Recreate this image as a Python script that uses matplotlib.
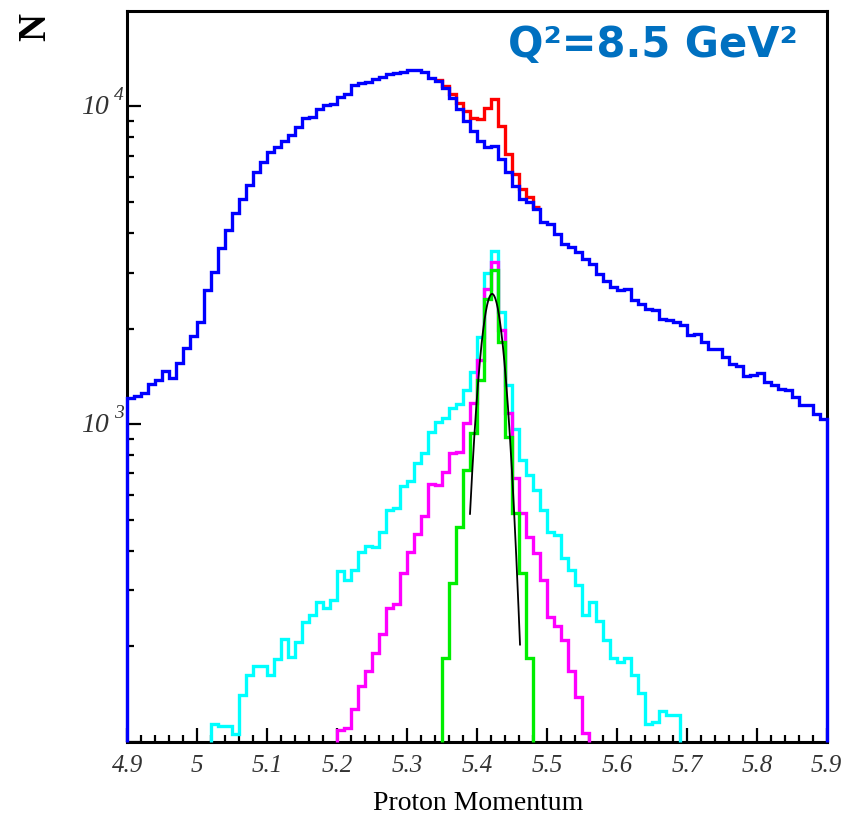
import matplotlib
matplotlib.use("Agg")
import matplotlib.pyplot as plt
import numpy as np
from matplotlib.ticker import FixedLocator, NullFormatter

# 100 bins of 0.01 between 4.9 and 5.9
x_lo, x_hi, n_bins = 4.9, 5.9, 100

# all events (blue)
blue = [1213, 1224, 1249, 1342, 1381, 1470, 1401, 1557, 1741, 1889,
        2101, 2635, 3008, 3587, 4086, 4630, 5112, 5657, 6197, 6662,
        7160, 7461, 7753, 8138, 8641, 9181, 9268, 9800, 10109, 10204,
        10734, 10969, 11657, 11827, 11939, 12227, 12378, 12649, 12741, 12861,
        12992, 12992, 12861, 12316, 12026, 11457, 10657, 9800, 9004, 8376,
        7792, 7424, 7516, 6828, 6197, 5628, 5112, 4988, 4756, 4317,
        4267, 3969, 3693, 3603, 3475, 3313, 3195, 2973, 2832, 2698,
        2635, 2667, 2451, 2393, 2308, 2292, 2147, 2121, 2095, 2046,
        1903, 1927, 1813, 1720, 1720, 1627, 1551, 1521, 1415, 1432,
        1449, 1358, 1326, 1295, 1279, 1218, 1147, 1147, 1080, 1042]

# red only differs from blue around the peak
red_first_bin = 44
red = [12087, 11598, 10921, 10279, 9680, 9221, 9115, 9913, 10535, 8685,
       7078, 6125, 5495, 5172, 4811]

cyan_first_bin = 12
cyan = [114, 112, 112, 106, 141, 163, 174, 174, 162, 182,
        211, 185, 206, 238, 251, 275, 264, 280, 344, 324,
        348, 397, 414, 410, 459, 537, 544, 639, 664, 756,
        811, 944, 1015, 1044, 1122, 1156, 1279, 1460, 1879, 2986,
        3518, 2252, 1326, 965, 771, 692, 621, 537, 459, 448,
        379, 348, 312, 251, 275, 240, 210, 184, 179, 184,
        163, 143, 114, 116, 125, 122, 122]

magenta_first_bin = 30
magenta = [109, 111, 127, 150, 167, 190, 219, 264, 272, 340,
           397, 452, 514, 648, 644, 708, 809, 818, 1005, 1162,
           1588, 2667, 3232, 1973, 1083, 675, 524, 443, 393, 324,
           248, 231, 210, 167, 139, 107]

green_first_bin = 45
green = [184, 316, 476, 717, 935, 1374, 2481, 3045, 1813, 912,
         524, 340, 184]

# gaussian fit on the green peak
fit_amp, fit_mean, fit_sigma = 2570, 5.4216, 0.0177
fit_lo, fit_hi = 5.39, 5.4615

x_ticks = [4.9, 5.0, 5.1, 5.2, 5.3, 5.4, 5.5, 5.6, 5.7, 5.8, 5.9]
x_tick_labels = ["4.9", "5", "5.1", "5.2", "5.3", "5.4", "5.5", "5.6", "5.7", "5.8", "5.9"]
y_ticks = [100, 1000, 10000]
y_label_ticks = [1000, 10000]
y_label_exps = ["3", "4"]

edges = np.linspace(x_lo, x_hi, n_bins + 1)
y_min, y_max = 100, 20000

fig = plt.figure(figsize=(8.53, 8.18), dpi=100)
ax = fig.add_axes([127.3 / 853, 76 / 818, 699.4 / 853, 731.3 / 818])
ax.set_yscale("log")
ax.set_xlim(x_lo, x_hi)
ax.set_ylim(y_min, y_max)

lw = 2.4


def draw_part(values, first, color, z):
    e = edges[first:first + len(values) + 1]
    ax.stairs(values, e, baseline=y_min, color=color, lw=lw, zorder=z, clip_on=False)


ax.stairs(red, edges[red_first_bin:red_first_bin + len(red) + 1], baseline=None,
          color="#ff0000", lw=lw, zorder=2)
ax.stairs(blue, edges, baseline=y_min, color="#0000ff", lw=lw, zorder=3, clip_on=False)
draw_part(cyan, cyan_first_bin, "#00ffff", 4)
draw_part(magenta, magenta_first_bin, "#ff00ff", 5)
draw_part(green, green_first_bin, "#00ee00", 6)

xf = np.linspace(fit_lo, fit_hi, 200)
yf = fit_amp * np.exp(-0.5 * ((xf - fit_mean) / fit_sigma) ** 2)
ax.plot(xf, yf, color="black", lw=1.3, zorder=7)

for s in ax.spines.values():
    s.set_linewidth(2.2)
    s.set_zorder(2.5)

ax.xaxis.set_major_locator(FixedLocator(x_ticks))
ax.xaxis.set_minor_locator(FixedLocator(np.arange(4.92, 5.9, 0.02)))
ax.set_xticklabels(x_tick_labels)
ax.yaxis.set_major_locator(FixedLocator(y_ticks))
ax.yaxis.set_minor_locator(FixedLocator([k * 100 for k in range(2, 10)] + [k * 1000 for k in range(2, 10)]))
ax.yaxis.set_minor_formatter(NullFormatter())
ax.set_yticklabels([""] * len(y_ticks))

ax.tick_params(which="major", direction="in", length=10, width=1.6, top=False, right=False)
ax.tick_params(which="minor", direction="in", length=5, width=1.6, top=False, right=False)
ax.tick_params(axis="x", which="major", pad=9)
for lab in ax.get_xticklabels():
    lab.set_fontfamily("Liberation Serif")
    lab.set_fontstyle("italic")
    lab.set_fontsize(18)
    lab.set_color("#333333")

# ROOT style 10^n labels: italic "10" with raised exponent
for yv, ex in zip(y_label_ticks, y_label_exps):
    ax.annotate("10", xy=(0, yv), xycoords=("axes fraction", "data"), xytext=(-23, -1),
                textcoords="offset points", ha="center", va="center", fontsize=20,
                fontfamily="Liberation Serif", fontstyle="italic", color="#333333")
    ax.annotate(ex, xy=(0, yv), xycoords=("axes fraction", "data"), xytext=(-6, 8),
                textcoords="offset points", ha="center", va="center", fontsize=14,
                fontfamily="Liberation Serif", fontstyle="italic", color="#333333")

fig.text(478 / 853, 1 - 804 / 818, "Proton Momentum", fontfamily="Liberation Serif",
         fontsize=20, ha="center", va="center")
fig.text(36 / 853, 1 - 27 / 818, "N", fontfamily="Liberation Serif", fontsize=28,
         fontweight="bold", rotation=90, ha="center", va="center")
fig.text(653 / 853, 1 - 45 / 818, "Q²=8.5 GeV²", fontfamily="DejaVu Sans", fontweight="bold",
         fontsize=30, color="#0070C0", ha="center", va="center")

fig.savefig("out.png", dpi=100)
